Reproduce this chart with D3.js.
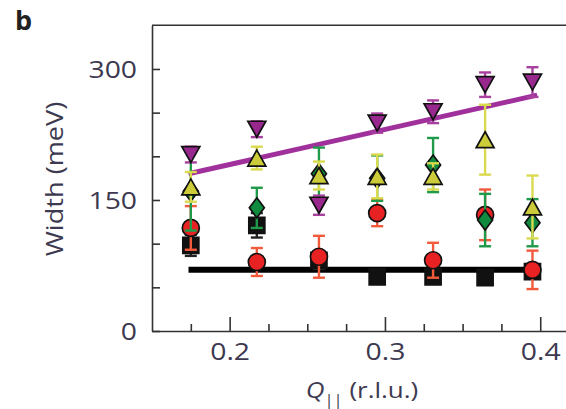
<!DOCTYPE html>
<html>
<head>
<meta charset="utf-8">
<script src="https://cdn.jsdelivr.net/npm/d3@7/dist/d3.min.js"></script>
<style>
  body { margin: 0; background: #fff; }
  svg { display: block; }
</style>
</head>
<body>
<div id="chart"></div>
<script>
// Q positions of the seven scans (r.l.u.)
var qValues = [0.175, 0.2175, 0.2575, 0.295, 0.331, 0.3645, 0.395];

// widths (meV) and error half-lengths for each series
var purpleWidth = [202, 231, 144, 238, 251, 282, 285];
var purpleErr   = [9, 9, 11, 11, 13, 14, 17];
var yellowWidth = [165, 198, 178, 177, 177, 219, 142];
var yellowErr   = [17, 13, 16, 25, 15, 40, 36];
var greenWidth  = [160, 141, 180, 175, 190, 127, 124];
var greenErr    = [45, 23, 30, 26, 31, 30, 27];
var redWidth    = [118, 79, 85, 135, 81, 133, 70];
var redErr      = [25, 16, 24, 15, 20, 29, 22];
var blackWidth  = [98, 121, 81, 62, 62, 61, 68];
var blackErr    = [12, 14, 10, 8, 8, 8, 8];

// linear fits
var purpleFitQ = [0.1735, 0.398];
var purpleFitWidth = [180, 270];
var blackFitQ = [0.1735, 0.397];
var blackFitWidth = [70, 70];

// ticks
var yMajorTicks = [0, 150, 300];
var yMinorTicks = [50, 100, 200, 250];
var xMajorTicks = [0.2, 0.3, 0.4];
var xMinorTicks = [0.175, 0.225, 0.25, 0.275, 0.325, 0.35, 0.375];

var width = 566, height = 409;
var stretch = 1.18; // the original lettering is a little wide
var textColor = '#3d3950';
var fontFamily = '"Open Sans", "Noto Sans", sans-serif';

var svg = d3.select('#chart')
    .append('svg')
    .attr('width', width)
    .attr('height', height);

var x = d3.scaleLinear().domain([0.15, 0.42]).range([152, 571.3]);
var y = d3.scaleLinear().domain([0, 350]).range([331, 25.3]);

// shape paths centred on 0,0
function shapePath(shape, w, h){
    var a = w / 2, b = h / 2;
    if (shape === 'up') return 'M0,' + (-b) + 'L' + a + ',' + b + 'L' + (-a) + ',' + b + 'Z';
    if (shape === 'down') return 'M0,' + b + 'L' + a + ',' + (-b) + 'L' + (-a) + ',' + (-b) + 'Z';
    if (shape === 'diamond') return 'M0,' + (-b) + 'L' + a + ',0L0,' + b + 'L' + (-a) + ',0Z';
    if (shape === 'square') return 'M' + (-a) + ',' + (-b) + 'H' + a + 'V' + b + 'H' + (-a) + 'Z';
    // circle
    return 'M' + (-a) + ',0A' + a + ',' + a + ' 0 1,0 ' + a + ',0A' + a + ',' + a + ' 0 1,0 ' + (-a) + ',0Z';
}

// frame: top line and axes
svg.append('line')
    .attr('x1', x(0.15)).attr('x2', width + 5)
    .attr('y1', y(350)).attr('y2', y(350))
    .style('stroke', '#333').style('stroke-width', 1.6);

var xAxis = svg.append('g')
    .attr('transform', 'translate(0,' + y(0) + ')')
    .call(d3.axisBottom(x).tickValues(xMajorTicks).tickFormat(d3.format('.1f'))
        .tickSizeInner(-14).tickSizeOuter(0).tickPadding(12));
svg.append('g')
    .attr('transform', 'translate(0,' + y(0) + ')')
    .call(d3.axisBottom(x).tickValues(xMinorTicks).tickFormat('')
        .tickSizeInner(-7).tickSizeOuter(0))
    .select('.domain').remove();

var yAxis = svg.append('g')
    .attr('transform', 'translate(' + x(0.15) + ',0)')
    .call(d3.axisLeft(y).tickValues(yMajorTicks).tickFormat(d3.format('d'))
        .tickSizeInner(-8).tickSizeOuter(0).tickPadding(15));
svg.append('g')
    .attr('transform', 'translate(' + x(0.15) + ',0)')
    .call(d3.axisLeft(y).tickValues(yMinorTicks).tickFormat('')
        .tickSizeInner(-8).tickSizeOuter(0))
    .select('.domain').remove();

svg.selectAll('.domain, .tick line')
    .style('stroke', '#333')
    .style('stroke-width', 1.6);

xAxis.selectAll('text')
    .attr('transform', 'scale(' + stretch + ',1)')
    .style('font-family', fontFamily)
    .style('font-size', '24px')
    .style('fill', textColor);

yAxis.selectAll('text')
    .attr('x', -15 / stretch)
    .attr('dy', '0.36em')
    .attr('transform', 'scale(' + stretch + ',1)')
    .style('font-family', fontFamily)
    .style('font-size', '24px')
    .style('fill', textColor);

// axis titles
svg.append('text')
    .attr('transform', 'translate(63,179) rotate(-90) scale(' + stretch + ',1)')
    .attr('text-anchor', 'middle')
    .style('font-family', fontFamily)
    .style('font-size', '23px')
    .style('fill', textColor)
    .text('Width (meV)');

var xTitle = svg.append('text')
    .attr('transform', 'translate(362,398) scale(' + stretch + ',1)')
    .attr('text-anchor', 'middle')
    .style('font-family', fontFamily)
    .style('font-size', '22px')
    .style('fill', textColor);
xTitle.append('tspan').style('font-style', 'italic').text('Q');
xTitle.append('tspan').attr('dy', 7).style('font-size', '14px').text('||');
xTitle.append('tspan').attr('dy', -7).text(' (r.l.u.)');

svg.append('text')
    .attr('x', 15).attr('y', 30)
    .style('font-family', fontFamily)
    .style('font-size', '27px')
    .style('font-weight', 'bold')
    .style('fill', '#222')
    .text('b');

// fit lines
var line = d3.line()
    .x(function(d){ return x(d[0]); })
    .y(function(d){ return y(d[1]); });

svg.append('path')
    .datum(d3.zip(blackFitQ, blackFitWidth))
    .attr('d', line)
    .style('fill', 'none').style('stroke', '#000').style('stroke-width', 6);

svg.append('path')
    .datum(d3.zip(purpleFitQ, purpleFitWidth))
    .attr('d', line)
    .style('fill', 'none').style('stroke', '#a0309c').style('stroke-width', 5);

// series, bottom layer first
var series = [
    {values: blackWidth,  errors: blackErr,  fill: '#111',    bar: '#222',    shape: 'square',  w: 16, h: 16},
    {values: redWidth,    errors: redErr,    fill: '#e82222', bar: '#f25a3c', shape: 'circle',  w: 17, h: 17},
    {values: greenWidth,  errors: greenErr,  fill: '#0f8a3e', bar: '#1f9a4a', shape: 'diamond', w: 15, h: 20},
    {values: yellowWidth, errors: yellowErr, fill: '#cccc3a', bar: '#dada50', shape: 'up',      w: 18, h: 16},
    {values: purpleWidth, errors: purpleErr, fill: '#98288e', bar: '#a8409f', shape: 'down',    w: 18, h: 16}
];

series.forEach(function(s){
    var pts = qValues.map(function(q, i){
        return {q: q, v: s.values[i], e: s.errors[i]};
    });
    var g = svg.append('g');

    var bars = g.selectAll('.bar').data(pts).enter().append('g')
        .style('stroke', s.bar)
        .style('stroke-width', 2.4);
    bars.append('line')
        .attr('x1', function(d){ return x(d.q); })
        .attr('x2', function(d){ return x(d.q); })
        .attr('y1', function(d){ return y(d.v - d.e); })
        .attr('y2', function(d){ return y(d.v + d.e); });
    [-1, 1].forEach(function(sign){
        bars.append('line')
            .attr('x1', function(d){ return x(d.q) - 6; })
            .attr('x2', function(d){ return x(d.q) + 6; })
            .attr('y1', function(d){ return y(d.v + sign * d.e); })
            .attr('y2', function(d){ return y(d.v + sign * d.e); });
    });

    g.selectAll('.mark').data(pts).enter().append('path')
        .attr('transform', function(d){ return 'translate(' + x(d.q) + ',' + y(d.v) + ')'; })
        .attr('d', shapePath(s.shape, s.w, s.h))
        .style('fill', s.fill)
        .style('stroke', '#111')
        .style('stroke-width', 1.7);
});
</script>
</body>
</html>
